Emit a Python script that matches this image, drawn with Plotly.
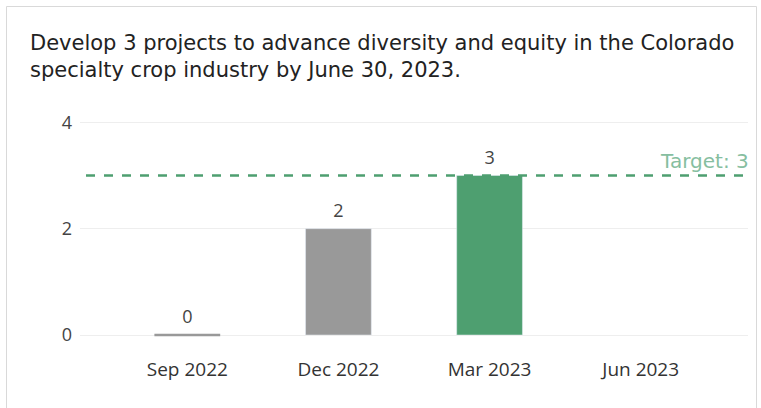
import plotly.graph_objects as go

title_text = "Develop 3 projects to advance diversity and equity in the Colorado<br>specialty crop industry by June 30, 2023."
months = ["Sep 2022", "Dec 2022", "Mar 2023", "Jun 2023"]
values = [0, 2, 3, None]
bar_colors = ["#999999", "#999999", "#4e9f70", "#999999"]
target = 3
target_label = "Target: 3"
y_ticks = [0, 2, 4]

W, H = 761, 408
L, R, T, B = 80, 13, 117, 73
pw, ph = W - L - R, H - T - B

def px_to_paper_x(px):
    return (px - L) / pw

def px_to_paper_y(py):
    return (H - B - py) / ph

fig = go.Figure()

fig.add_trace(go.Bar(
    x=months, y=values, marker_color=bar_colors, width=0.435,
    hoverinfo="skip", showlegend=False,
))

# zero-valued months shown as a thin line at the baseline
zero_x = [m for m, v in zip(months, values) if v == 0]
zero_y = [v for v in values if v == 0]
fig.add_trace(go.Scatter(
    x=zero_x, y=zero_y, mode="markers",
    marker=dict(symbol="line-ew-open", size=47, color="#999999",
                line=dict(width=2.5, color="#999999")),
    hoverinfo="skip", showlegend=False, cliponaxis=False,
))

# value labels
lab_x = [m for m, v in zip(months, values) if v is not None]
lab_y = [v for v in values if v is not None]
fig.add_trace(go.Scatter(
    x=lab_x, y=lab_y, mode="markers+text", text=[str(v) for v in lab_y],
    textposition="top center",
    marker=dict(size=10, opacity=0),
    textfont=dict(family="Open Sans", size=18, color="#444444"),
    hoverinfo="skip", showlegend=False, cliponaxis=False,
))

# target line
fig.add_shape(type="line", xref="paper", yref="y", x0=px_to_paper_x(86), x1=1,
              y0=target, y1=target,
              line=dict(color="#4e9f70", width=2.5, dash="dash"))
fig.add_annotation(xref="paper", yref="y", x=1, y=target, text=target_label,
                   showarrow=False, xanchor="right", yanchor="bottom", yshift=0, xshift=3,
                   font=dict(family="DejaVu Sans", size=20, color="#86bea0"))

# outer frame
fig.add_shape(type="rect", xref="paper", yref="paper",
              x0=px_to_paper_x(6.5), x1=px_to_paper_x(756.5),
              y0=px_to_paper_y(412), y1=px_to_paper_y(6.5),
              line=dict(color="#d9d9d9", width=1), fillcolor="rgba(0,0,0,0)", layer="below")

fig.update_layout(
    width=W, height=H,
    margin=dict(l=L, r=R, t=T, b=B),
    paper_bgcolor="white", plot_bgcolor="white",
    title=dict(text=title_text, x=30 / W, xanchor="left", xref="container",
               y=1 - 50 / H, yanchor="top", yref="container",
               font=dict(family="DejaVu Sans", size=21, color="#222222")),
    xaxis=dict(type="category", range=[-0.71, 3.71], showgrid=False, showline=False,
               zeroline=False, ticks="", ticklabelstandoff=21,
               tickfont=dict(family="Open Sans", size=19, color="#333333")),
    yaxis=dict(range=[0, 4.1], tickvals=y_ticks, showgrid=True, gridcolor="#eeeeee",
               gridwidth=1, zeroline=True, zerolinecolor="#eeeeee", zerolinewidth=1,
               showline=False, ticks="", ticklabelstandoff=7,
               tickfont=dict(family="Open Sans", size=18, color="#444444")),
)

fig.write_html("out.html", config={"displayModeBar": False},
               post_script="document.body.style.margin='0';")
